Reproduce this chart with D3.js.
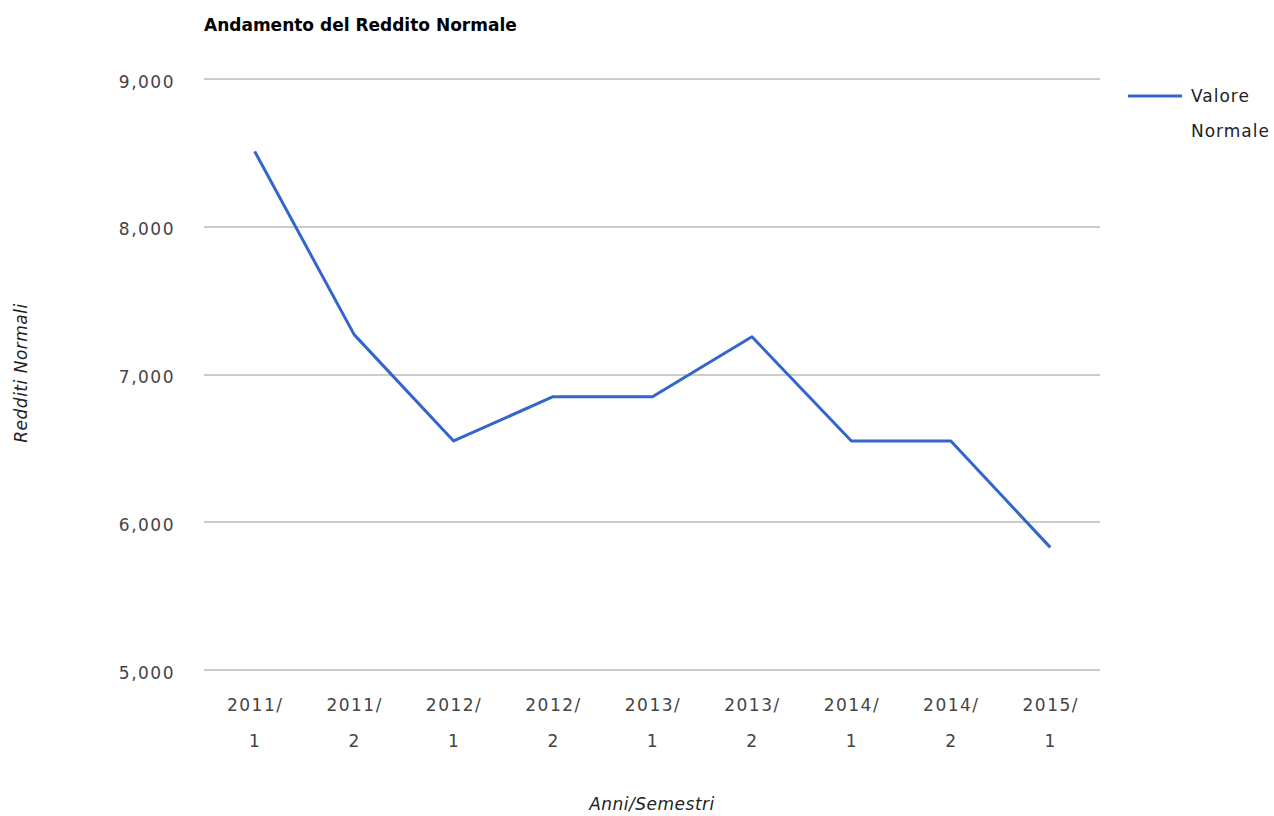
<!DOCTYPE html>
<html><head><meta charset="utf-8">
<script src="https://cdn.jsdelivr.net/npm/d3@7"></script>
<style>
body{margin:0;background:#fff;}
text{font-family:"DejaVu Sans",Verdana,sans-serif;}
</style></head>
<body>
<svg id="c" width="1274" height="816"></svg>
<script>
const categories = ["2011/1","2011/2","2012/1","2012/2","2013/1","2013/2","2014/1","2014/2","2015/1"];
const values = [8510, 7270, 6550, 6850, 6850, 7255, 6550, 6550, 5830];
const yTicks = [5000, 6000, 7000, 8000, 9000];
const seriesName = "Valore Normale";
const titleText = "Andamento del Reddito Normale";
const xTitle = "Anni/Semestri";
const yTitle = "Redditi Normali";

const svg = d3.select("#c");
const mLeft = 205, mRight = 1100, mTop = 79, mBottom = 670;
const x = d3.scalePoint().domain(categories).range([mLeft, mRight]).padding(0.5);
const y = d3.scaleLinear().domain([5000, 9000]).range([mBottom, mTop]);

svg.append("text").attr("x", 204).attr("y", 31).attr("font-size", 17).attr("font-weight", "bold")
  .attr("fill", "#000").text(titleText);

// gridlines
svg.append("g").selectAll("line").data(yTicks).join("line")
  .attr("x1", mLeft - 1).attr("x2", mRight)
  .attr("y1", d => Math.round(y(d))).attr("y2", d => Math.round(y(d)))
  .attr("stroke", "#cccccc").attr("stroke-width", 2);

// y axis labels
const yAxis = d3.axisLeft(y).tickValues(yTicks).tickFormat(d3.format(",")).tickSize(0).tickPadding(0);
const ga = svg.append("g").attr("transform", `translate(175,0)`).call(yAxis);
ga.select(".domain").remove();
ga.selectAll("text").attr("font-size", 17).attr("fill", "#444").attr("letter-spacing", "1.5px")
  .attr("dy", "0.47em");

// x axis labels (two lines)
const xAxis = d3.axisBottom(x).tickSize(0).tickFormat("");
const gx = svg.append("g").attr("transform", `translate(0,${mBottom})`).call(xAxis);
gx.select(".domain").remove();
gx.selectAll(".tick").each(function(d){
  const parts = d.split("/");
  const t = d3.select(this);
  t.append("text").attr("y", 41).attr("text-anchor","middle").attr("font-size",17).attr("fill","#444")
    .attr("letter-spacing","1.5px").text(parts[0] + "/");
  t.append("text").attr("y", 77).attr("text-anchor","middle").attr("font-size",17).attr("fill","#444")
    .attr("letter-spacing","1.5px").text(parts[1]);
});

// line
const line = d3.line().x((d,i) => x(categories[i])).y(d => y(d));
svg.append("path").datum(values).attr("d", line).attr("fill","none")
  .attr("stroke","#3366cc").attr("stroke-width",3).attr("stroke-linejoin","round");

// axis titles
svg.append("text").attr("x", 652).attr("y", 810).attr("text-anchor","middle").attr("font-size",17)
  .attr("font-style","italic").attr("letter-spacing","0.5px").attr("fill","#222").text(xTitle);
svg.append("text").attr("transform","translate(27,373) rotate(-90)").attr("text-anchor","middle")
  .attr("font-size",17).attr("font-style","italic").attr("letter-spacing","0.5px").attr("fill","#222").text(yTitle);

// legend
const lg = svg.append("g");
lg.append("line").attr("x1",1128).attr("x2",1182).attr("y1",96).attr("y2",96)
  .attr("stroke","#3366cc").attr("stroke-width",3);
const words = seriesName.split(" ");
lg.selectAll("text").data(words).join("text")
  .attr("x", (d,i) => i === 0 ? 1191 : 1191).attr("y", (d,i) => 102 + i*35)
  .attr("font-size",17).attr("fill","#222").attr("letter-spacing","1px").text(d => d);
</script>
</body></html>
